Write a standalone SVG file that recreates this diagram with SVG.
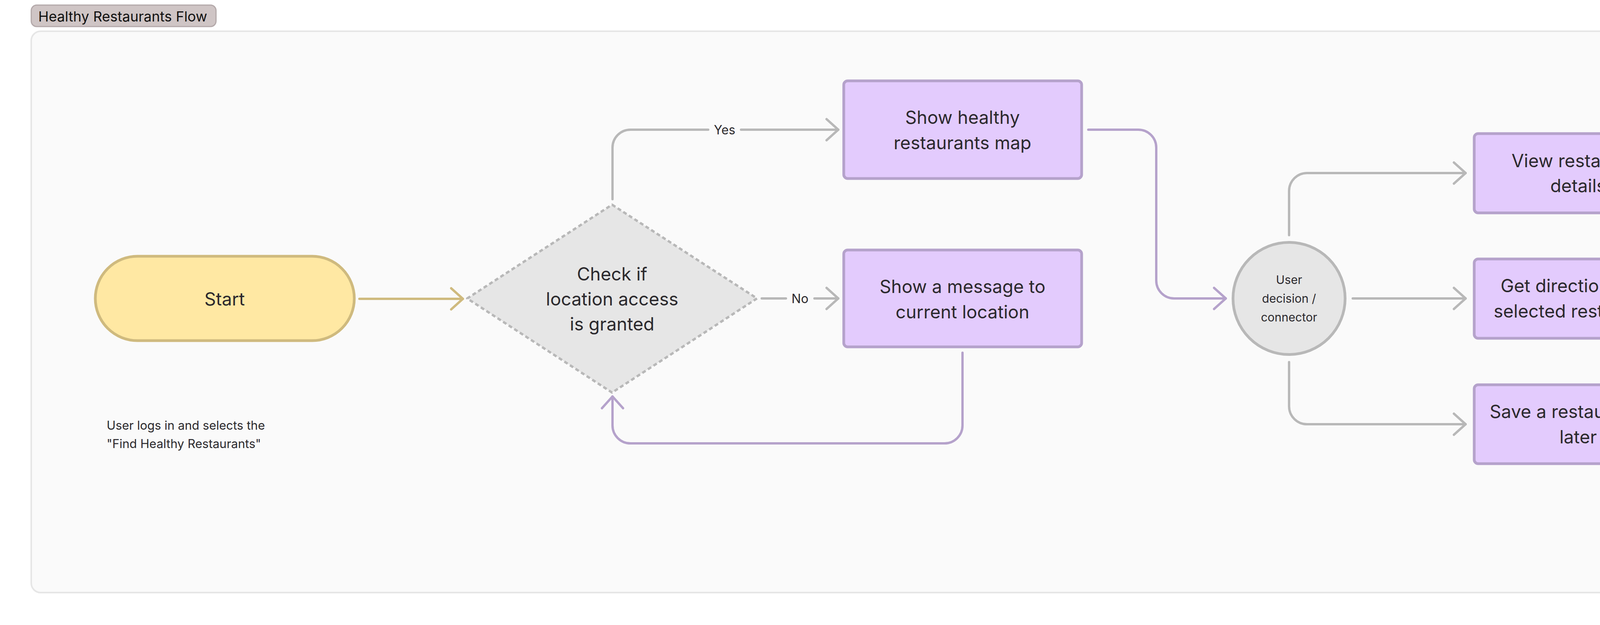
<svg xmlns="http://www.w3.org/2000/svg" width="7680" height="1600" viewBox="0 0 7680 1600">
<style>
text{font-family:Inter,"Liberation Sans",sans-serif;fill:#2b292d}
.t46{font-size:46px;text-anchor:middle}
.lbl{font-size:32px;text-anchor:middle}
.proc{fill:#e3cbfd;stroke:#b5a2cb;stroke-width:7}
.ln{fill:none;stroke-width:6;stroke-linecap:round;stroke-linejoin:round}
.grey{stroke:#b8b8b8}
.purple{stroke:#b5a2cb}
.gold{stroke:#cfba7e}
</style>
<defs>
<marker id="ag" markerUnits="userSpaceOnUse" markerWidth="60" markerHeight="60" refX="0" refY="0" orient="auto" overflow="visible"><path d="M-30,-27 L0,0 L-30,27" fill="none" stroke="#b8b8b8" stroke-width="6" stroke-linecap="round" stroke-linejoin="round"/></marker>
<marker id="ap" markerUnits="userSpaceOnUse" markerWidth="60" markerHeight="60" refX="0" refY="0" orient="auto" overflow="visible"><path d="M-30,-27 L0,0 L-30,27" fill="none" stroke="#b5a2cb" stroke-width="6" stroke-linecap="round" stroke-linejoin="round"/></marker>
<marker id="ay" markerUnits="userSpaceOnUse" markerWidth="60" markerHeight="60" refX="0" refY="0" orient="auto" overflow="visible"><path d="M-30,-27 L0,0 L-30,27" fill="none" stroke="#cfba7e" stroke-width="6" stroke-linecap="round" stroke-linejoin="round"/></marker>
<filter id="sh" x="-20%" y="-20%" width="140%" height="150%"><feDropShadow dx="0" dy="10" stdDeviation="12" flood-color="#000" flood-opacity="0.12"/></filter>
</defs>
<rect width="7680" height="1600" fill="#ffffff"/>
<g id="section">
<rect x="80" y="80" width="7517" height="1437" rx="24" fill="#fafafa" stroke="#e6e6e6" stroke-width="4"/>
<rect x="80" y="13" width="473" height="55" rx="14" fill="#cfc5c5" stroke="#b4a9aa" stroke-width="3"/>
<text x="98" y="55" style="font-size:36px;fill:#111">Healthy Restaurants Flow</text>
</g>
<g id="connectors">
<path class="ln gold" d="M920,765 H1185" marker-end="url(#ay)"/>
<path class="ln grey" d="M1568,510 V378 A46,46 0 0 1 1614,332 H1813"/>
<path class="ln grey" d="M1897,332 H2146" marker-end="url(#ag)"/>
<text class="lbl" x="1855" y="344">Yes</text>
<path class="ln grey" d="M1950,764 H2012"/>
<path class="ln grey" d="M2085,764 H2146" marker-end="url(#ag)"/>
<text class="lbl" x="2048" y="776">No</text>
<path class="ln purple" d="M2464,903 V1089 A46,46 0 0 1 2418,1135 H1614 A46,46 0 0 1 1568,1089 V1015" marker-end="url(#ap)"/>
<path class="ln purple" d="M2786,332 H2914 A46,46 0 0 1 2960,378 V718 A46,46 0 0 0 3006,764 H3138" marker-end="url(#ap)"/>
<path class="ln grey" d="M3300,602 V489 A46,46 0 0 1 3346,443 H3752" marker-end="url(#ag)"/>
<path class="ln grey" d="M3463,764 H3752" marker-end="url(#ag)"/>
<path class="ln grey" d="M3300,927 V1040 A46,46 0 0 0 3346,1086 H3752" marker-end="url(#ag)"/>
<path class="ln purple" d="M4327,443 H5073 A46,46 0 0 1 5119,489 V651" marker-end="url(#ap)"/>
<path class="ln purple" d="M4327,764 H4822" marker-end="url(#ap)"/>
<path class="ln purple" d="M4327,1086 H5073 A46,46 0 0 0 5119,1040 V873" marker-end="url(#ap)"/>
</g>
<g id="start">
<rect x="244" y="656" width="663" height="216" rx="108" fill="#ffe8a3" stroke="#cfba7e" stroke-width="7"/>
<text class="t46" x="575" y="782">Start</text>
</g>
<g id="start-note">
<text x="273" y="1100" style="font-size:31px">User logs in and selects the</text>
<text x="273" y="1147" style="font-size:31px">"Find Healthy Restaurants"</text>
</g>
<g id="check-location">
<polygon points="1567,524 1938,764 1567,1005 1196,764" fill="#e6e6e6" stroke="#b8b8b8" stroke-width="6" stroke-dasharray="10 7" stroke-linejoin="round"/>
<text class="t46" x="1567" y="718">Check if</text>
<text class="t46" x="1567" y="782">location access</text>
<text class="t46" x="1567" y="846">is granted</text>
</g>
<g id="show-map">
<rect class="proc" x="2160" y="207" width="609" height="250" rx="10"/>
<text class="t46" x="2464" y="317">Show healthy</text>
<text class="t46" x="2464" y="382">restaurants map</text>
</g>
<g id="show-message">
<rect class="proc" x="2160" y="640" width="609" height="248" rx="10"/>
<text class="t46" x="2464" y="750">Show a message to</text>
<text class="t46" x="2464" y="815">current location</text>
</g>
<g id="user-decision">
<circle cx="3300" cy="764" r="143.5" fill="#e6e6e6" stroke="#b8b8b8" stroke-width="7"/>
<text x="3300" y="727" style="font-size:30px;text-anchor:middle">User</text>
<text x="3300" y="775" style="font-size:30px;text-anchor:middle">decision /</text>
<text x="3300" y="823" style="font-size:30px;text-anchor:middle">connector</text>
</g>
<g id="view-details">
<rect class="proc" x="3774" y="342" width="533" height="203" rx="10"/>
<text class="t46" x="4040" y="428">View restaurant</text>
<text class="t46" x="4040" y="492">details</text>
</g>
<g id="get-directions">
<rect class="proc" x="3774" y="663" width="533" height="203" rx="10"/>
<text class="t46" x="4040" y="748">Get directions to a</text>
<text class="t46" x="4040" y="813">selected restaurant.</text>
</g>
<g id="save-restaurant">
<rect class="proc" x="3774" y="985" width="533" height="202" rx="10"/>
<text class="t46" x="4040" y="1070">Save a restaurant for</text>
<text class="t46" x="4040" y="1135">later</text>
</g>
<g id="end">
<rect x="4837" y="667" width="565" height="194" rx="97" fill="#ffc7c2" stroke="#c99d99" stroke-width="7"/>
<text class="t46" x="5119" y="781">End</text>
</g>
<g id="sticky-note">
<rect x="6864" y="652" width="480" height="480" fill="#ffd966" filter="url(#sh)"/>
<text x="6905" y="728" style="font-size:31px;font-weight:700">Note</text>
<text x="6905" y="824" style="font-size:31px">Note description</text>
<text x="6905" y="1084" style="font-size:24px;fill:#c9ae5a">Brooke Clifton</text>
</g>
</svg>
